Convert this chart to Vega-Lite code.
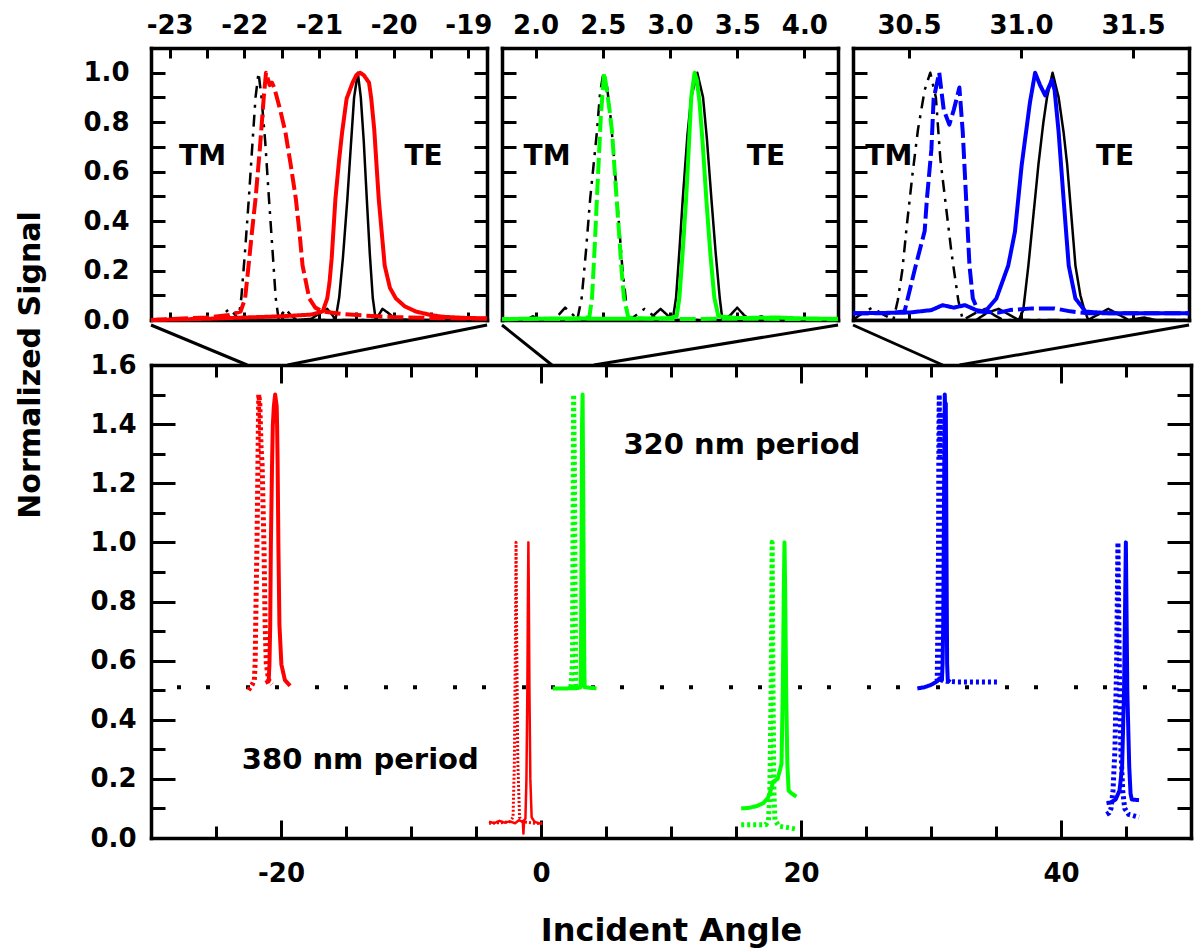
{
  "$schema": "https://vega.github.io/schema/vega-lite/v6.json",
  "padding": {"left": 15, "top": 12, "right": 3, "bottom": 3},
  "background": "white",
  "title": {"text": "Normalized Signal", "orient": "left", "anchor": "middle", "fontSize": 30, "font": "DejaVu Sans", "fontWeight": "bold", "color": "black", "offset": 37, "dx": 114},
  "config": {
    "view": {"stroke": null},
    "font": "DejaVu Sans",
    "axis": {"domainColor": "black", "domainWidth": 3.5, "domainCap": "square", "tickColor": "black", "tickWidth": 3, "labelFont": "DejaVu Sans", "labelFontWeight": "bold", "labelFontSize": 26, "labelColor": "black", "grid": false, "labelFlush": false, "labelOverlap": false, "titleFont": "DejaVu Sans", "titleFontWeight": "bold", "titleColor": "black"},
    "text": {"font": "DejaVu Sans", "fontWeight": "bold", "color": "black"},
    "line": {"strokeJoin": "round"}
  },
  "datasets": {
    "in1th": [
      {"k":"TE","x":-23.25,"y":0},{"k":"TE","x":-21.3,"y":0},{"k":"TE","x":-21.1,"y":0.005},{"k":"TE","x":-20.98,"y":0.03},{"k":"TE","x":-20.89,"y":0.045},{"k":"TE","x":-20.82,"y":0.02},{"k":"TE","x":-20.78,"y":0},{"k":"TE","x":-20.73,"y":0.09},{"k":"TE","x":-20.68,"y":0.25},{"k":"TE","x":-20.62,"y":0.49},{"k":"TE","x":-20.57,"y":0.72},{"k":"TE","x":-20.53,"y":0.9},{"k":"TE","x":-20.48,"y":1.0},{"k":"TE","x":-20.44,"y":0.9},{"k":"TE","x":-20.4,"y":0.72},{"k":"TE","x":-20.36,"y":0.49},{"k":"TE","x":-20.32,"y":0.27},{"k":"TE","x":-20.28,"y":0.09},{"k":"TE","x":-20.24,"y":0},{"k":"TE","x":-20.2,"y":0.02},{"k":"TE","x":-20.15,"y":0.045},{"k":"TE","x":-20.08,"y":0.03},{"k":"TE","x":-19.98,"y":0.005},{"k":"TE","x":-19.8,"y":0},{"k":"TE","x":-18.75,"y":0},
      {"k":"TM","x":-23.25,"y":0},{"k":"TM","x":-22.45,"y":0},{"k":"TM","x":-22.3,"y":0.02},{"k":"TM","x":-22.2,"y":0.045},{"k":"TM","x":-22.12,"y":0.02},{"k":"TM","x":-22.08,"y":0},{"k":"TM","x":-22.04,"y":0.09},{"k":"TM","x":-21.99,"y":0.28},{"k":"TM","x":-21.94,"y":0.49},{"k":"TM","x":-21.89,"y":0.72},{"k":"TM","x":-21.85,"y":0.9},{"k":"TM","x":-21.81,"y":1.0},{"k":"TM","x":-21.77,"y":0.9},{"k":"TM","x":-21.72,"y":0.72},{"k":"TM","x":-21.67,"y":0.49},{"k":"TM","x":-21.62,"y":0.27},{"k":"TM","x":-21.58,"y":0.09},{"k":"TM","x":-21.54,"y":0},{"k":"TM","x":-21.5,"y":0.02},{"k":"TM","x":-21.45,"y":0.045},{"k":"TM","x":-21.38,"y":0.02},{"k":"TM","x":-21.3,"y":0},{"k":"TM","x":-18.75,"y":0}
    ],
    "in1ex": [
      {"k":"TE","x":-23.25,"y":0},{"k":"TE","x":-22.5,"y":0.005},{"k":"TE","x":-22.0,"y":0.01},{"k":"TE","x":-21.5,"y":0.015},{"k":"TE","x":-21.1,"y":0.022},{"k":"TE","x":-20.95,"y":0.035},{"k":"TE","x":-20.89,"y":0.087},{"k":"TE","x":-20.86,"y":0.15},{"k":"TE","x":-20.83,"y":0.25},{"k":"TE","x":-20.78,"y":0.49},{"k":"TE","x":-20.73,"y":0.65},{"k":"TE","x":-20.69,"y":0.76},{"k":"TE","x":-20.63,"y":0.895},{"k":"TE","x":-20.55,"y":0.96},{"k":"TE","x":-20.5,"y":0.99},{"k":"TE","x":-20.45,"y":1.0},{"k":"TE","x":-20.4,"y":0.99},{"k":"TE","x":-20.33,"y":0.96},{"k":"TE","x":-20.3,"y":0.895},{"k":"TE","x":-20.26,"y":0.77},{"k":"TE","x":-20.2,"y":0.49},{"k":"TE","x":-20.12,"y":0.22},{"k":"TE","x":-20.05,"y":0.13},{"k":"TE","x":-19.97,"y":0.087},{"k":"TE","x":-19.85,"y":0.055},{"k":"TE","x":-19.7,"y":0.034},{"k":"TE","x":-19.5,"y":0.02},{"k":"TE","x":-19.34,"y":0.013},{"k":"TE","x":-19.0,"y":0.008},{"k":"TE","x":-18.75,"y":0.007},
      {"k":"TM","x":-23.25,"y":0},{"k":"TM","x":-22.9,"y":0.005},{"k":"TM","x":-22.5,"y":0.01},{"k":"TM","x":-22.2,"y":0.02},{"k":"TM","x":-22.05,"y":0.034},{"k":"TM","x":-21.99,"y":0.087},{"k":"TM","x":-21.95,"y":0.2},{"k":"TM","x":-21.9,"y":0.35},{"k":"TM","x":-21.85,"y":0.49},{"k":"TM","x":-21.79,"y":0.7},{"k":"TM","x":-21.74,"y":0.9},{"k":"TM","x":-21.71,"y":1.0},{"k":"TM","x":-21.68,"y":0.97},{"k":"TM","x":-21.66,"y":0.95},{"k":"TM","x":-21.63,"y":0.96},{"k":"TM","x":-21.6,"y":0.94},{"k":"TM","x":-21.52,"y":0.85},{"k":"TM","x":-21.45,"y":0.76},{"k":"TM","x":-21.38,"y":0.63},{"k":"TM","x":-21.31,"y":0.49},{"k":"TM","x":-21.26,"y":0.35},{"k":"TM","x":-21.22,"y":0.22},{"k":"TM","x":-21.13,"y":0.087},{"k":"TM","x":-21.05,"y":0.05},{"k":"TM","x":-20.95,"y":0.034},{"k":"TM","x":-20.7,"y":0.025},{"k":"TM","x":-20.4,"y":0.018},{"k":"TM","x":-20.0,"y":0.012},{"k":"TM","x":-19.5,"y":0.008},{"k":"TM","x":-18.75,"y":0.005}
    ],
    "in2th": [
      {"k":"TM","x":1.75,"y":0},{"k":"TM","x":2.1,"y":0},{"k":"TM","x":2.17,"y":0.02},{"k":"TM","x":2.22,"y":0.05},{"k":"TM","x":2.28,"y":0.02},{"k":"TM","x":2.31,"y":0},{"k":"TM","x":2.343,"y":0.09},{"k":"TM","x":2.375,"y":0.28},{"k":"TM","x":2.406,"y":0.49},{"k":"TM","x":2.456,"y":0.76},{"k":"TM","x":2.48,"y":0.92},{"k":"TM","x":2.505,"y":1.0},{"k":"TM","x":2.53,"y":0.95},{"k":"TM","x":2.556,"y":0.83},{"k":"TM","x":2.58,"y":0.68},{"k":"TM","x":2.606,"y":0.49},{"k":"TM","x":2.644,"y":0.22},{"k":"TM","x":2.682,"y":0.03},{"k":"TM","x":2.7,"y":0},{"k":"TM","x":2.75,"y":0.02},{"k":"TM","x":2.81,"y":0.045},{"k":"TM","x":2.87,"y":0.02},{"k":"TM","x":2.9,"y":0},{"k":"TM","x":4.25,"y":0},
      {"k":"TE","x":1.75,"y":0},{"k":"TE","x":1.93,"y":0},{"k":"TE","x":1.98,"y":0.015},{"k":"TE","x":2.03,"y":0},{"k":"TE","x":2.85,"y":0},{"k":"TE","x":2.88,"y":0.02},{"k":"TE","x":2.93,"y":0.045},{"k":"TE","x":2.98,"y":0.02},{"k":"TE","x":3.02,"y":0},{"k":"TE","x":3.045,"y":0.09},{"k":"TE","x":3.07,"y":0.28},{"k":"TE","x":3.095,"y":0.49},{"k":"TE","x":3.13,"y":0.75},{"k":"TE","x":3.158,"y":0.9},{"k":"TE","x":3.203,"y":1.0},{"k":"TE","x":3.246,"y":0.9},{"k":"TE","x":3.275,"y":0.73},{"k":"TE","x":3.308,"y":0.49},{"k":"TE","x":3.34,"y":0.27},{"k":"TE","x":3.37,"y":0.09},{"k":"TE","x":3.39,"y":0},{"k":"TE","x":3.45,"y":0.02},{"k":"TE","x":3.5,"y":0.05},{"k":"TE","x":3.55,"y":0.02},{"k":"TE","x":3.6,"y":0},{"k":"TE","x":3.68,"y":0.015},{"k":"TE","x":3.75,"y":0},{"k":"TE","x":4.25,"y":0}
    ],
    "in2ex": [
      {"k":"TM","x":1.75,"y":0.003},{"k":"TM","x":2.0,"y":0.005},{"k":"TM","x":2.2,"y":0.004},{"k":"TM","x":2.35,"y":0.006},{"k":"TM","x":2.4,"y":0.012},{"k":"TM","x":2.42,"y":0.09},{"k":"TM","x":2.44,"y":0.3},{"k":"TM","x":2.456,"y":0.49},{"k":"TM","x":2.486,"y":0.83},{"k":"TM","x":2.51,"y":1.0},{"k":"TM","x":2.53,"y":0.93},{"k":"TM","x":2.55,"y":0.85},{"k":"TM","x":2.569,"y":0.76},{"k":"TM","x":2.595,"y":0.55},{"k":"TM","x":2.62,"y":0.36},{"k":"TM","x":2.64,"y":0.2},{"k":"TM","x":2.657,"y":0.09},{"k":"TM","x":2.69,"y":0.01},{"k":"TM","x":2.8,"y":0.006},{"k":"TM","x":3.0,"y":0.004},{"k":"TM","x":3.5,"y":0.005},{"k":"TM","x":4.0,"y":0.004},{"k":"TM","x":4.25,"y":0.003},
      {"k":"TE","x":1.75,"y":0.004},{"k":"TE","x":2.2,"y":0.006},{"k":"TE","x":2.6,"y":0.005},{"k":"TE","x":2.9,"y":0.006},{"k":"TE","x":3.0,"y":0.008},{"k":"TE","x":3.05,"y":0.015},{"k":"TE","x":3.07,"y":0.09},{"k":"TE","x":3.095,"y":0.28},{"k":"TE","x":3.12,"y":0.49},{"k":"TE","x":3.14,"y":0.7},{"k":"TE","x":3.158,"y":0.9},{"k":"TE","x":3.183,"y":1.0},{"k":"TE","x":3.2,"y":0.97},{"k":"TE","x":3.22,"y":0.88},{"k":"TE","x":3.245,"y":0.7},{"k":"TE","x":3.27,"y":0.49},{"k":"TE","x":3.3,"y":0.27},{"k":"TE","x":3.33,"y":0.09},{"k":"TE","x":3.36,"y":0.015},{"k":"TE","x":3.5,"y":0.008},{"k":"TE","x":3.8,"y":0.01},{"k":"TE","x":4.0,"y":0.006},{"k":"TE","x":4.25,"y":0.005}
    ],
    "in3th": [
      {"k":"TM","x":30.25,"y":0},{"k":"TM","x":30.28,"y":0.02},{"k":"TM","x":30.335,"y":0.05},{"k":"TM","x":30.39,"y":0.02},{"k":"TM","x":30.43,"y":0},{"k":"TM","x":30.45,"y":0.08},{"k":"TM","x":30.47,"y":0.2},{"k":"TM","x":30.49,"y":0.38},{"k":"TM","x":30.515,"y":0.585},{"k":"TM","x":30.54,"y":0.77},{"k":"TM","x":30.57,"y":0.93},{"k":"TM","x":30.595,"y":1.0},{"k":"TM","x":30.62,"y":0.9},{"k":"TM","x":30.64,"y":0.65},{"k":"TM","x":30.665,"y":0.46},{"k":"TM","x":30.69,"y":0.27},{"k":"TM","x":30.72,"y":0.08},{"k":"TM","x":30.74,"y":0},{"k":"TM","x":30.8,"y":0.03},{"k":"TM","x":30.84,"y":0.045},{"k":"TM","x":30.88,"y":0.02},{"k":"TM","x":30.92,"y":0},{"k":"TM","x":31.75,"y":0},
      {"k":"TE","x":30.25,"y":0},{"k":"TE","x":30.8,"y":0},{"k":"TE","x":30.85,"y":0.03},{"k":"TE","x":30.9,"y":0.045},{"k":"TE","x":30.95,"y":0.02},{"k":"TE","x":30.99,"y":0},{"k":"TE","x":31.01,"y":0.04},{"k":"TE","x":31.033,"y":0.22},{"k":"TE","x":31.055,"y":0.42},{"k":"TE","x":31.078,"y":0.63},{"k":"TE","x":31.1,"y":0.8},{"k":"TE","x":31.116,"y":0.9},{"k":"TE","x":31.141,"y":1.0},{"k":"TE","x":31.168,"y":0.9},{"k":"TE","x":31.19,"y":0.76},{"k":"TE","x":31.206,"y":0.63},{"k":"TE","x":31.225,"y":0.42},{"k":"TE","x":31.243,"y":0.22},{"k":"TE","x":31.265,"y":0.1},{"k":"TE","x":31.28,"y":0.05},{"k":"TE","x":31.3,"y":0},{"k":"TE","x":31.34,"y":0.02},{"k":"TE","x":31.39,"y":0.045},{"k":"TE","x":31.44,"y":0.02},{"k":"TE","x":31.48,"y":0},{"k":"TE","x":31.55,"y":0.01},{"k":"TE","x":31.6,"y":0},{"k":"TE","x":31.75,"y":0}
    ],
    "in3ex": [
      {"k":"TM","x":30.25,"y":0.027},{"k":"TM","x":30.4,"y":0.027},{"k":"TM","x":30.48,"y":0.034},{"k":"TM","x":30.53,"y":0.22},{"k":"TM","x":30.57,"y":0.36},{"k":"TM","x":30.58,"y":0.49},{"k":"TM","x":30.6,"y":0.69},{"k":"TM","x":30.61,"y":0.895},{"k":"TM","x":30.635,"y":1.0},{"k":"TM","x":30.655,"y":0.85},{"k":"TM","x":30.68,"y":0.79},{"k":"TM","x":30.7,"y":0.85},{"k":"TM","x":30.725,"y":0.94},{"k":"TM","x":30.74,"y":0.76},{"k":"TM","x":30.755,"y":0.49},{"k":"TM","x":30.77,"y":0.22},{"k":"TM","x":30.785,"y":0.087},{"k":"TM","x":30.81,"y":0.034},{"k":"TM","x":30.9,"y":0.03},{"k":"TM","x":30.95,"y":0.04},{"k":"TM","x":31.05,"y":0.047},{"k":"TM","x":31.15,"y":0.047},{"k":"TM","x":31.22,"y":0.035},{"k":"TM","x":31.3,"y":0.027},{"k":"TM","x":31.75,"y":0.027},
      {"k":"TE","x":30.25,"y":0.027},{"k":"TE","x":30.5,"y":0.03},{"k":"TE","x":30.6,"y":0.04},{"k":"TE","x":30.65,"y":0.06},{"k":"TE","x":30.7,"y":0.05},{"k":"TE","x":30.75,"y":0.06},{"k":"TE","x":30.8,"y":0.04},{"k":"TE","x":30.84,"y":0.034},{"k":"TE","x":30.89,"y":0.087},{"k":"TE","x":30.943,"y":0.22},{"k":"TE","x":30.973,"y":0.357},{"k":"TE","x":31.003,"y":0.626},{"k":"TE","x":31.04,"y":0.88},{"k":"TE","x":31.063,"y":1.0},{"k":"TE","x":31.085,"y":0.95},{"k":"TE","x":31.108,"y":0.908},{"k":"TE","x":31.138,"y":0.97},{"k":"TE","x":31.15,"y":0.93},{"k":"TE","x":31.168,"y":0.76},{"k":"TE","x":31.19,"y":0.49},{"k":"TE","x":31.213,"y":0.22},{"k":"TE","x":31.243,"y":0.087},{"k":"TE","x":31.288,"y":0.034},{"k":"TE","x":31.4,"y":0.027},{"k":"TE","x":31.75,"y":0.027}
    ],
    "main": [
      {"s":"r320TE","c":"red","m":"TE","x":-21.2,"y":0.525},{"s":"r320TE","c":"red","m":"TE","x":-20.95,"y":0.53},{"s":"r320TE","c":"red","m":"TE","x":-20.89,"y":0.587},{"s":"r320TE","c":"red","m":"TE","x":-20.83,"y":0.72},{"s":"r320TE","c":"red","m":"TE","x":-20.78,"y":0.99},{"s":"r320TE","c":"red","m":"TE","x":-20.69,"y":1.26},{"s":"r320TE","c":"red","m":"TE","x":-20.63,"y":1.395},{"s":"r320TE","c":"red","m":"TE","x":-20.55,"y":1.46},{"s":"r320TE","c":"red","m":"TE","x":-20.45,"y":1.5},{"s":"r320TE","c":"red","m":"TE","x":-20.33,"y":1.46},{"s":"r320TE","c":"red","m":"TE","x":-20.3,"y":1.395},{"s":"r320TE","c":"red","m":"TE","x":-20.26,"y":1.27},{"s":"r320TE","c":"red","m":"TE","x":-20.2,"y":0.99},{"s":"r320TE","c":"red","m":"TE","x":-20.12,"y":0.72},{"s":"r320TE","c":"red","m":"TE","x":-19.97,"y":0.587},{"s":"r320TE","c":"red","m":"TE","x":-19.7,"y":0.534},{"s":"r320TE","c":"red","m":"TE","x":-19.3,"y":0.515},
      {"s":"r320TM","c":"red","m":"TM","x":-22.5,"y":0.5},{"s":"r320TM","c":"red","m":"TM","x":-22.2,"y":0.52},{"s":"r320TM","c":"red","m":"TM","x":-22.05,"y":0.535},{"s":"r320TM","c":"red","m":"TM","x":-21.99,"y":0.59},{"s":"r320TM","c":"red","m":"TM","x":-21.92,"y":0.8},{"s":"r320TM","c":"red","m":"TM","x":-21.85,"y":0.99},{"s":"r320TM","c":"red","m":"TM","x":-21.79,"y":1.2},{"s":"r320TM","c":"red","m":"TM","x":-21.74,"y":1.4},{"s":"r320TM","c":"red","m":"TM","x":-21.71,"y":1.5},{"s":"r320TM","c":"red","m":"TM","x":-21.63,"y":1.47},{"s":"r320TM","c":"red","m":"TM","x":-21.53,"y":1.32},{"s":"r320TM","c":"red","m":"TM","x":-21.45,"y":1.26},{"s":"r320TM","c":"red","m":"TM","x":-21.31,"y":0.99},{"s":"r320TM","c":"red","m":"TM","x":-21.22,"y":0.72},{"s":"r320TM","c":"red","m":"TM","x":-21.13,"y":0.59},{"s":"r320TM","c":"red","m":"TM","x":-20.95,"y":0.534},{"s":"r320TM","c":"red","m":"TM","x":-20.7,"y":0.52},
      {"s":"r380TE","c":"red","m":"TE","x":-4.0,"y":0.055},{"s":"r380TE","c":"red","m":"TE","x":-3.6,"y":0.05},{"s":"r380TE","c":"red","m":"TE","x":-3.2,"y":0.058},{"s":"r380TE","c":"red","m":"TE","x":-2.8,"y":0.052},{"s":"r380TE","c":"red","m":"TE","x":-2.4,"y":0.056},{"s":"r380TE","c":"red","m":"TE","x":-2.0,"y":0.05},{"s":"r380TE","c":"red","m":"TE","x":-1.7,"y":0.06},{"s":"r380TE","c":"red","m":"TE","x":-1.4,"y":0.055},{"s":"r380TE","c":"red","m":"TE","x":-1.35,"y":0.015},{"s":"r380TE","c":"red","m":"TE","x":-1.3,"y":0.06},{"s":"r380TE","c":"red","m":"TE","x":-1.2,"y":0.065},{"s":"r380TE","c":"red","m":"TE","x":-1.12,"y":0.2},{"s":"r380TE","c":"red","m":"TE","x":-1.05,"y":0.5},{"s":"r380TE","c":"red","m":"TE","x":-1.0,"y":0.85},{"s":"r380TE","c":"red","m":"TE","x":-0.97,"y":1.0},{"s":"r380TE","c":"red","m":"TE","x":-0.94,"y":0.85},{"s":"r380TE","c":"red","m":"TE","x":-0.89,"y":0.5},{"s":"r380TE","c":"red","m":"TE","x":-0.82,"y":0.2},{"s":"r380TE","c":"red","m":"TE","x":-0.72,"y":0.07},{"s":"r380TE","c":"red","m":"TE","x":-0.5,"y":0.055},{"s":"r380TE","c":"red","m":"TE","x":-0.2,"y":0.05},{"s":"r380TE","c":"red","m":"TE","x":0.1,"y":0.048},
      {"s":"r380TM","c":"red","m":"TM","x":-4.0,"y":0.05},{"s":"r380TM","c":"red","m":"TM","x":-3.0,"y":0.052},{"s":"r380TM","c":"red","m":"TM","x":-2.4,"y":0.055},{"s":"r380TM","c":"red","m":"TM","x":-2.15,"y":0.07},{"s":"r380TM","c":"red","m":"TM","x":-2.05,"y":0.25},{"s":"r380TM","c":"red","m":"TM","x":-1.98,"y":0.6},{"s":"r380TM","c":"red","m":"TM","x":-1.92,"y":1.0},{"s":"r380TM","c":"red","m":"TM","x":-1.86,"y":0.6},{"s":"r380TM","c":"red","m":"TM","x":-1.78,"y":0.25},{"s":"r380TM","c":"red","m":"TM","x":-1.65,"y":0.07},{"s":"r380TM","c":"red","m":"TM","x":-1.4,"y":0.055},{"s":"r380TM","c":"red","m":"TM","x":-0.5,"y":0.05},{"s":"r380TM","c":"red","m":"TM","x":0.1,"y":0.05},
      {"s":"g320TE","c":"green","m":"TE","x":0.9,"y":0.506},{"s":"g320TE","c":"green","m":"TE","x":2.0,"y":0.506},{"s":"g320TE","c":"green","m":"TE","x":2.8,"y":0.507},{"s":"g320TE","c":"green","m":"TE","x":3.05,"y":0.51},{"s":"g320TE","c":"green","m":"TE","x":3.07,"y":0.59},{"s":"g320TE","c":"green","m":"TE","x":3.095,"y":0.78},{"s":"g320TE","c":"green","m":"TE","x":3.12,"y":0.99},{"s":"g320TE","c":"green","m":"TE","x":3.158,"y":1.4},{"s":"g320TE","c":"green","m":"TE","x":3.2,"y":1.5},{"s":"g320TE","c":"green","m":"TE","x":3.245,"y":1.2},{"s":"g320TE","c":"green","m":"TE","x":3.27,"y":0.99},{"s":"g320TE","c":"green","m":"TE","x":3.3,"y":0.77},{"s":"g320TE","c":"green","m":"TE","x":3.33,"y":0.59},{"s":"g320TE","c":"green","m":"TE","x":3.36,"y":0.51},{"s":"g320TE","c":"green","m":"TE","x":4.27,"y":0.506},
      {"s":"g320TM","c":"green","m":"TM","x":2.3,"y":0.51},{"s":"g320TM","c":"green","m":"TM","x":2.42,"y":0.59},{"s":"g320TM","c":"green","m":"TM","x":2.456,"y":0.99},{"s":"g320TM","c":"green","m":"TM","x":2.486,"y":1.33},{"s":"g320TM","c":"green","m":"TM","x":2.51,"y":1.5},{"s":"g320TM","c":"green","m":"TM","x":2.569,"y":1.26},{"s":"g320TM","c":"green","m":"TM","x":2.62,"y":0.86},{"s":"g320TM","c":"green","m":"TM","x":2.657,"y":0.59},{"s":"g320TM","c":"green","m":"TM","x":2.69,"y":0.51},{"s":"g320TM","c":"green","m":"TM","x":2.8,"y":0.51},
      {"s":"g380TE","c":"green","m":"TE","x":15.4,"y":0.1},{"s":"g380TE","c":"green","m":"TE","x":16.0,"y":0.102},{"s":"g380TE","c":"green","m":"TE","x":16.6,"y":0.108},{"s":"g380TE","c":"green","m":"TE","x":17.1,"y":0.118},{"s":"g380TE","c":"green","m":"TE","x":17.45,"y":0.135},{"s":"g380TE","c":"green","m":"TE","x":17.7,"y":0.165},{"s":"g380TE","c":"green","m":"TE","x":17.85,"y":0.19},{"s":"g380TE","c":"green","m":"TE","x":18.2,"y":0.2},{"s":"g380TE","c":"green","m":"TE","x":18.5,"y":0.25},{"s":"g380TE","c":"green","m":"TE","x":18.6,"y":0.5},{"s":"g380TE","c":"green","m":"TE","x":18.68,"y":0.85},{"s":"g380TE","c":"green","m":"TE","x":18.73,"y":1.0},{"s":"g380TE","c":"green","m":"TE","x":18.78,"y":0.85},{"s":"g380TE","c":"green","m":"TE","x":18.86,"y":0.5},{"s":"g380TE","c":"green","m":"TE","x":18.95,"y":0.25},{"s":"g380TE","c":"green","m":"TE","x":19.05,"y":0.16},{"s":"g380TE","c":"green","m":"TE","x":19.3,"y":0.15},{"s":"g380TE","c":"green","m":"TE","x":19.65,"y":0.14},
      {"s":"g380TM","c":"green","m":"TM","x":15.4,"y":0.045},{"s":"g380TM","c":"green","m":"TM","x":16.5,"y":0.045},{"s":"g380TM","c":"green","m":"TM","x":17.3,"y":0.045},{"s":"g380TM","c":"green","m":"TM","x":17.5,"y":0.06},{"s":"g380TM","c":"green","m":"TM","x":17.6,"y":0.15},{"s":"g380TM","c":"green","m":"TM","x":17.7,"y":0.5},{"s":"g380TM","c":"green","m":"TM","x":17.78,"y":1.0},{"s":"g380TM","c":"green","m":"TM","x":17.85,"y":0.5},{"s":"g380TM","c":"green","m":"TM","x":17.92,"y":0.15},{"s":"g380TM","c":"green","m":"TM","x":18.0,"y":0.06},{"s":"g380TM","c":"green","m":"TM","x":18.3,"y":0.04},{"s":"g380TM","c":"green","m":"TM","x":19.0,"y":0.035},{"s":"g380TM","c":"green","m":"TM","x":19.65,"y":0.03},
      {"s":"b320TE","c":"blue","m":"TE","x":28.95,"y":0.506},{"s":"b320TE","c":"blue","m":"TE","x":29.5,"y":0.51},{"s":"b320TE","c":"blue","m":"TE","x":30.0,"y":0.518},{"s":"b320TE","c":"blue","m":"TE","x":30.4,"y":0.528},{"s":"b320TE","c":"blue","m":"TE","x":30.65,"y":0.54},{"s":"b320TE","c":"blue","m":"TE","x":30.84,"y":0.534},{"s":"b320TE","c":"blue","m":"TE","x":30.89,"y":0.587},{"s":"b320TE","c":"blue","m":"TE","x":30.94,"y":0.72},{"s":"b320TE","c":"blue","m":"TE","x":31.0,"y":1.13},{"s":"b320TE","c":"blue","m":"TE","x":31.06,"y":1.5},{"s":"b320TE","c":"blue","m":"TE","x":31.11,"y":1.41},{"s":"b320TE","c":"blue","m":"TE","x":31.14,"y":1.47},{"s":"b320TE","c":"blue","m":"TE","x":31.19,"y":0.99},{"s":"b320TE","c":"blue","m":"TE","x":31.24,"y":0.59},{"s":"b320TE","c":"blue","m":"TE","x":31.29,"y":0.534},{"s":"b320TE","c":"blue","m":"TE","x":31.5,"y":0.528},
      {"s":"b320TM","c":"blue","m":"TM","x":30.4,"y":0.53},{"s":"b320TM","c":"blue","m":"TM","x":30.48,"y":0.534},{"s":"b320TM","c":"blue","m":"TM","x":30.53,"y":0.72},{"s":"b320TM","c":"blue","m":"TM","x":30.58,"y":0.99},{"s":"b320TM","c":"blue","m":"TM","x":30.61,"y":1.395},{"s":"b320TM","c":"blue","m":"TM","x":30.635,"y":1.5},{"s":"b320TM","c":"blue","m":"TM","x":30.68,"y":1.29},{"s":"b320TM","c":"blue","m":"TM","x":30.725,"y":1.44},{"s":"b320TM","c":"blue","m":"TM","x":30.755,"y":0.99},{"s":"b320TM","c":"blue","m":"TM","x":30.785,"y":0.587},{"s":"b320TM","c":"blue","m":"TM","x":30.81,"y":0.534},{"s":"b320TM","c":"blue","m":"TM","x":31.2,"y":0.53},{"s":"b320TM","c":"blue","m":"TM","x":32.0,"y":0.528},{"s":"b320TM","c":"blue","m":"TM","x":35.1,"y":0.528},
      {"s":"b380TE","c":"blue","m":"TE","x":43.5,"y":0.118},{"s":"b380TE","c":"blue","m":"TE","x":43.8,"y":0.12},{"s":"b380TE","c":"blue","m":"TE","x":44.2,"y":0.13},{"s":"b380TE","c":"blue","m":"TE","x":44.5,"y":0.16},{"s":"b380TE","c":"blue","m":"TE","x":44.7,"y":0.24},{"s":"b380TE","c":"blue","m":"TE","x":44.85,"y":0.5},{"s":"b380TE","c":"blue","m":"TE","x":44.99,"y":1.0},{"s":"b380TE","c":"blue","m":"TE","x":45.1,"y":0.5},{"s":"b380TE","c":"blue","m":"TE","x":45.25,"y":0.24},{"s":"b380TE","c":"blue","m":"TE","x":45.35,"y":0.15},{"s":"b380TE","c":"blue","m":"TE","x":45.45,"y":0.13},{"s":"b380TE","c":"blue","m":"TE","x":46.0,"y":0.128},
      {"s":"b380TM","c":"blue","m":"TM","x":43.5,"y":0.08},{"s":"b380TM","c":"blue","m":"TM","x":43.7,"y":0.085},{"s":"b380TM","c":"blue","m":"TM","x":43.85,"y":0.1},{"s":"b380TM","c":"blue","m":"TM","x":44.0,"y":0.16},{"s":"b380TM","c":"blue","m":"TM","x":44.15,"y":0.3},{"s":"b380TM","c":"blue","m":"TM","x":44.28,"y":0.6},{"s":"b380TM","c":"blue","m":"TM","x":44.38,"y":1.0},{"s":"b380TM","c":"blue","m":"TM","x":44.48,"y":0.6},{"s":"b380TM","c":"blue","m":"TM","x":44.6,"y":0.3},{"s":"b380TM","c":"blue","m":"TM","x":44.75,"y":0.16},{"s":"b380TM","c":"blue","m":"TM","x":44.9,"y":0.1},{"s":"b380TM","c":"blue","m":"TM","x":45.2,"y":0.08},{"s":"b380TM","c":"blue","m":"TM","x":46.0,"y":0.07}
    ],
    "conn": [
      {"x":-30,"y":1.7353,"x2":-22.6,"y2":1.6},{"x":-4.15,"y":1.7353,"x2":-19.5,"y2":1.6},
      {"x":-3.0,"y":1.7353,"x2":0.84,"y2":1.6},{"x":22.85,"y":1.7353,"x2":4.07,"y2":1.6},
      {"x":24.0,"y":1.7353,"x2":30.9,"y2":1.6},{"x":49.85,"y":1.7353,"x2":32.2,"y2":1.6}
    ]
  },
  "vconcat": [
    {
      "hconcat": [
        {
          "width": 336, "height": 272,
          "resolve": {"axis": {"x": "independent", "y": "independent"}},
          "layer": [
            {
              "data": {"name": "in1th"},
              "mark": {"type": "line", "color": "black", "strokeWidth": 2.5},
              "encoding": {
                "x": {"field": "x", "type": "quantitative", "scale": {"domain": [-23.25, -18.75], "nice": false, "zero": false}, "axis": {"orient": "top", "title": null, "values": [-23,-22.5,-22,-21.5,-21,-20.5,-20,-19.5,-19], "labelExpr": "datum.value % 1 === 0 ? '' + datum.value : ''", "tickSize": -10, "labelPadding": 20}},
                "y": {"field": "y", "type": "quantitative", "scale": {"domain": [0, 1.1], "nice": false, "zero": false}, "axis": {"orient": "left", "title": null, "values": [0,0.1,0.2,0.3,0.4,0.5,0.6,0.7,0.8,0.9,1.0], "labelExpr": "round(datum.value*10) % 2 === 0 ? format(datum.value, '.1f') : ''", "tickSize": -14, "labelPadding": 36}},
                "detail": {"field": "k", "type": "nominal"},
                "strokeDash": {"condition": {"test": "datum.k === 'TM'", "value": [12, 7, 3, 7]}, "value": [1, 0]}
              }
            },
            {
              "data": {"name": "in1ex"},
              "mark": {"type": "line", "color": "#ff0000", "strokeWidth": 4},
              "encoding": {
                "x": {"field": "x", "type": "quantitative", "scale": {"domain": [-23.25, -18.75], "nice": false, "zero": false}, "axis": {"orient": "bottom", "title": null, "values": [-23,-22.5,-22,-21.5,-21,-20.5,-20,-19.5,-19], "labels": false, "tickSize": -8}},
                "y": {"field": "y", "type": "quantitative", "scale": {"domain": [0, 1.1], "nice": false, "zero": false}, "axis": {"orient": "right", "title": null, "values": [0,0.1,0.2,0.3,0.4,0.5,0.6,0.7,0.8,0.9,1.0], "labels": false, "tickSize": -13}},
                "detail": {"field": "k", "type": "nominal"},
                "strokeDash": {"condition": {"test": "datum.k === 'TM'", "value": [16, 5]}, "value": [1, 0]}
              }
            },
            {
              "data": {"values": [{"x": -22.56, "y": 0.66, "t": "TM"}, {"x": -19.6, "y": 0.66, "t": "TE"}]},
              "mark": {"type": "text", "fontSize": 28, "fontWeight": "bold", "baseline": "middle", "align": "center"},
              "encoding": {
                "x": {"field": "x", "type": "quantitative", "scale": {"domain": [-23.25, -18.75], "nice": false, "zero": false}, "axis": null},
                "y": {"field": "y", "type": "quantitative", "scale": {"domain": [0, 1.1], "nice": false, "zero": false}, "axis": null},
                "text": {"field": "t"}
              }
            }
          ]
        },
        {
          "width": 336, "height": 272,
          "resolve": {"axis": {"x": "independent", "y": "independent"}},
          "layer": [
            {
              "data": {"name": "in2th"},
              "mark": {"type": "line", "color": "black", "strokeWidth": 2.5},
              "encoding": {
                "x": {"field": "x", "type": "quantitative", "scale": {"domain": [1.75, 4.25], "nice": false, "zero": false}, "axis": {"orient": "top", "title": null, "values": [2.0,2.5,3.0,3.5,4.0], "format": ".1f", "tickSize": -10, "labelPadding": 20}},
                "y": {"field": "y", "type": "quantitative", "scale": {"domain": [0, 1.1], "nice": false, "zero": false}, "axis": {"orient": "left", "title": null, "values": [0,0.1,0.2,0.3,0.4,0.5,0.6,0.7,0.8,0.9,1.0], "labels": false, "tickSize": -14}},
                "detail": {"field": "k", "type": "nominal"},
                "strokeDash": {"condition": {"test": "datum.k === 'TM'", "value": [12, 7, 3, 7]}, "value": [1, 0]}
              }
            },
            {
              "data": {"name": "in2ex"},
              "mark": {"type": "line", "color": "#00ff00", "strokeWidth": 4},
              "encoding": {
                "x": {"field": "x", "type": "quantitative", "scale": {"domain": [1.75, 4.25], "nice": false, "zero": false}, "axis": {"orient": "bottom", "title": null, "values": [2.0,2.5,3.0,3.5,4.0], "labels": false, "tickSize": -8}},
                "y": {"field": "y", "type": "quantitative", "scale": {"domain": [0, 1.1], "nice": false, "zero": false}, "axis": {"orient": "right", "title": null, "values": [0,0.1,0.2,0.3,0.4,0.5,0.6,0.7,0.8,0.9,1.0], "labels": false, "tickSize": -13}},
                "detail": {"field": "k", "type": "nominal"},
                "strokeDash": {"condition": {"test": "datum.k === 'TM'", "value": [16, 5]}, "value": [1, 0]}
              }
            },
            {
              "data": {"values": [{"x": 2.085, "y": 0.66, "t": "TM"}, {"x": 3.714, "y": 0.66, "t": "TE"}]},
              "mark": {"type": "text", "fontSize": 28, "fontWeight": "bold", "baseline": "middle", "align": "center"},
              "encoding": {
                "x": {"field": "x", "type": "quantitative", "scale": {"domain": [1.75, 4.25], "nice": false, "zero": false}, "axis": null},
                "y": {"field": "y", "type": "quantitative", "scale": {"domain": [0, 1.1], "nice": false, "zero": false}, "axis": null},
                "text": {"field": "t"}
              }
            }
          ]
        },
        {
          "width": 336, "height": 272,
          "resolve": {"axis": {"x": "independent", "y": "independent"}},
          "layer": [
            {
              "data": {"name": "in3th"},
              "mark": {"type": "line", "color": "black", "strokeWidth": 2.5},
              "encoding": {
                "x": {"field": "x", "type": "quantitative", "scale": {"domain": [30.25, 31.75], "nice": false, "zero": false}, "axis": {"orient": "top", "title": null, "values": [30.5,31.0,31.5], "format": ".1f", "tickSize": -10, "labelPadding": 20}},
                "y": {"field": "y", "type": "quantitative", "scale": {"domain": [0, 1.1], "nice": false, "zero": false}, "axis": {"orient": "left", "title": null, "values": [0,0.1,0.2,0.3,0.4,0.5,0.6,0.7,0.8,0.9,1.0], "labels": false, "tickSize": -14}},
                "detail": {"field": "k", "type": "nominal"},
                "strokeDash": {"condition": {"test": "datum.k === 'TM'", "value": [12, 7, 3, 7]}, "value": [1, 0]}
              }
            },
            {
              "data": {"name": "in3ex"},
              "mark": {"type": "line", "color": "#0000ff", "strokeWidth": 4},
              "encoding": {
                "x": {"field": "x", "type": "quantitative", "scale": {"domain": [30.25, 31.75], "nice": false, "zero": false}, "axis": {"orient": "bottom", "title": null, "values": [30.5,31.0,31.5], "labels": false, "tickSize": -8}},
                "y": {"field": "y", "type": "quantitative", "scale": {"domain": [0, 1.1], "nice": false, "zero": false}, "axis": {"orient": "right", "title": null, "values": [0,0.1,0.2,0.3,0.4,0.5,0.6,0.7,0.8,0.9,1.0], "labels": false, "tickSize": -13}},
                "detail": {"field": "k", "type": "nominal"},
                "strokeDash": {"condition": {"test": "datum.k === 'TM'", "value": [16, 5]}, "value": [1, 0]}
              }
            },
            {
              "data": {"values": [{"x": 30.41, "y": 0.66, "t": "TM"}, {"x": 31.42, "y": 0.66, "t": "TE"}]},
              "mark": {"type": "text", "fontSize": 28, "fontWeight": "bold", "baseline": "middle", "align": "center"},
              "encoding": {
                "x": {"field": "x", "type": "quantitative", "scale": {"domain": [30.25, 31.75], "nice": false, "zero": false}, "axis": null},
                "y": {"field": "y", "type": "quantitative", "scale": {"domain": [0, 1.1], "nice": false, "zero": false}, "axis": null},
                "text": {"field": "t"}
              }
            }
          ]
        }
      ],
      "spacing": 15,
      "bounds": "flush"
    },
    {
      "width": 1040, "height": 473,
      "resolve": {"axis": {"x": "independent", "y": "independent"}},
      "layer": [
        {
          "data": {"values": [{}]},
          "mark": {"type": "rule", "color": "black", "strokeWidth": 4, "strokeDash": [4, 25, 4, 36], "strokeDashOffset": 54},
          "encoding": {
            "y": {"datum": 0.51, "type": "quantitative", "scale": {"domain": [0, 1.6], "nice": false, "zero": false}, "axis": null}
          }
        },
        {
          "data": {"name": "main"},
          "mark": {"type": "line"},
          "encoding": {
            "x": {"field": "x", "type": "quantitative", "scale": {"domain": [-30, 50], "nice": false, "zero": false},
                  "axis": {"orient": "bottom", "values": [-25,-20,-15,-10,-5,0,5,10,15,20,25,30,35,40,45], "labelExpr": "datum.value % 20 === 0 ? '' + datum.value : ''", "tickSize": {"condition": {"test": "datum.value % 20 === 0", "value": -18}, "value": -12}, "labelPadding": 40, "title": "Incident Angle", "titleFontSize": 32, "titleY": 92, "titleBaseline": "middle"}},
            "y": {"field": "y", "type": "quantitative", "scale": {"domain": [0, 1.6], "nice": false, "zero": false},
                  "axis": {"orient": "left", "title": null, "values": [0,0.1,0.2,0.3,0.4,0.5,0.6,0.7,0.8,0.9,1.0,1.1,1.2,1.3,1.4,1.5,1.6], "labelExpr": "round(datum.value*10) % 2 === 0 ? format(datum.value, '.1f') : ''", "tickSize": {"condition": {"test": "round(datum.value*10) % 2 === 0", "value": -24}, "value": -14}, "labelPadding": 39}},
            "color": {"field": "c", "type": "nominal", "scale": {"domain": ["red", "green", "blue"], "range": ["#ff0000", "#00ff00", "#0000ff"]}, "legend": null},
            "detail": {"field": "s", "type": "nominal"},
            "strokeDash": {"condition": [{"test": "datum.s === 'r380TM'", "value": [2, 2]}, {"test": "datum.m === 'TM'", "value": [3, 3]}], "value": [1, 0]},
            "strokeWidth": {"condition": [{"test": "datum.s === 'r380TE'", "value": 2.5}, {"test": "datum.s === 'r380TM'", "value": 3}, {"test": "datum.m === 'TM'", "value": 5}], "value": 4}
          }
        },
        {
          "data": {"name": "conn"},
          "mark": {"type": "rule", "color": "black", "strokeWidth": 3, "clip": false},
          "encoding": {
            "x": {"field": "x", "type": "quantitative", "scale": {"domain": [-30, 50], "nice": false, "zero": false},
                  "axis": {"orient": "top", "title": null, "values": [-25,-20,-15,-10,-5,0,5,10,15,20,25,30,35,40,45], "labels": false, "tickSize": {"condition": {"test": "datum.value % 20 === 0", "value": -18}, "value": -12}}},
            "y": {"field": "y", "type": "quantitative", "scale": {"domain": [0, 1.6], "nice": false, "zero": false},
                  "axis": {"orient": "right", "title": null, "values": [0,0.1,0.2,0.3,0.4,0.5,0.6,0.7,0.8,0.9,1.0,1.1,1.2,1.3,1.4,1.5,1.6], "labels": false, "tickSize": {"condition": {"test": "round(datum.value*10) % 2 === 0", "value": -24}, "value": -14}}},
            "x2": {"field": "x2"},
            "y2": {"field": "y2"}
          }
        },
        {
          "data": {"values": [{"x": 15.45, "y": 1.33, "t": "320 nm period"}, {"x": -13.9, "y": 0.263, "t": "380 nm period"}]},
          "mark": {"type": "text", "fontSize": 29, "fontWeight": "bold", "baseline": "middle", "align": "center"},
          "encoding": {
            "x": {"field": "x", "type": "quantitative", "scale": {"domain": [-30, 50], "nice": false, "zero": false}, "axis": null},
            "y": {"field": "y", "type": "quantitative", "scale": {"domain": [0, 1.6], "nice": false, "zero": false}, "axis": null},
            "text": {"field": "t"}
          }
        }
      ]
    }
  ],
  "spacing": -10
}
